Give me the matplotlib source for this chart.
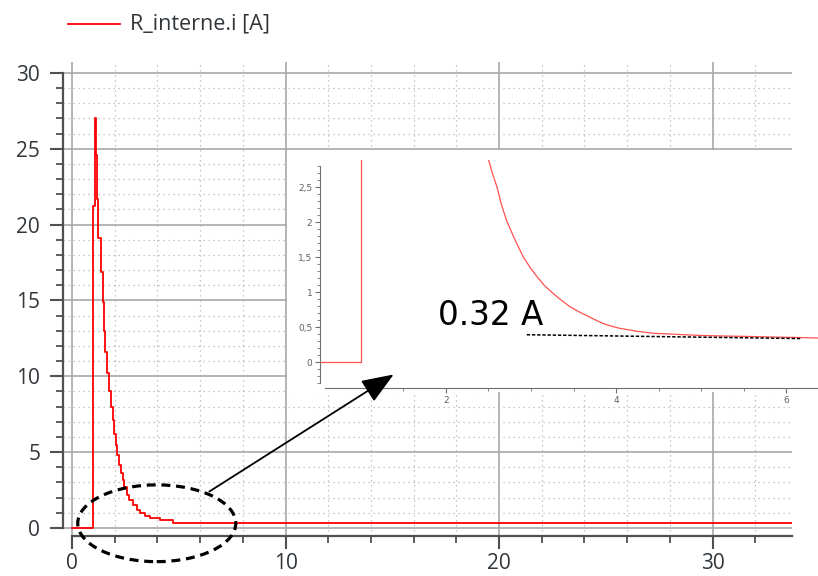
import matplotlib
matplotlib.use('Agg')
import numpy as np
import matplotlib.pyplot as plt
from matplotlib.patches import Ellipse, FancyArrowPatch
from matplotlib.lines import Line2D
from matplotlib.ticker import MultipleLocator, FixedLocator, FuncFormatter

# ---- data ----
series_label = "R_interne.i [A]"
# main plot: sampled current (step-held), time in s, current in A
main_t = [0, 0.97, 1.08, 1.12, 1.17, 1.23, 1.34, 1.44, 1.50, 1.56, 1.65, 1.75,
          1.83, 1.91, 1.97, 2.05, 2.12, 2.22, 2.30, 2.37, 2.45, 2.56, 2.68, 2.84,
          3.03, 3.18, 3.42, 3.65, 4.12, 4.74, 33.72]
main_i = [0, 21.2, 27.0, 24.6, 21.7, 19.1, 16.9, 14.9, 13.0, 11.6, 10.2, 9.0,
          8.0, 7.1, 6.2, 5.5, 4.8, 4.15, 3.6, 3.15, 2.7, 2.2, 1.85, 1.5,
          1.2, 0.97, 0.79, 0.64, 0.5, 0.35, 0.35]
# zoomed inset: rising edge and decaying tail
inset_edge_t = [0.52, 1.0, 1.0]
inset_edge_i = [0.0, 0.0, 3.2]
inset_tail_t = [2.47, 2.50, 2.55, 2.60, 2.65, 2.71, 2.77, 2.83, 2.91, 2.99, 3.07,
                3.16, 3.26, 3.36, 3.46, 3.56, 3.66, 3.76, 3.85, 3.95, 4.05, 4.15,
                4.24, 4.34, 4.44, 4.54, 4.64, 4.80, 4.99, 5.25, 5.58, 5.85, 6.16, 6.38]
inset_tail_i = [3.05, 2.89, 2.68, 2.50, 2.26, 2.03, 1.86, 1.70, 1.50, 1.35, 1.22,
                1.09, 0.98, 0.88, 0.79, 0.72, 0.66, 0.60, 0.55, 0.51, 0.48, 0.46,
                0.44, 0.425, 0.41, 0.405, 0.40, 0.39, 0.38, 0.372, 0.365, 0.357, 0.35, 0.343]
asymptote_t = [2.95, 6.18]
asymptote_i = [0.39, 0.335]
annotation_text = "0.32 A"

W, H = 818, 576
fig = plt.figure(figsize=(W / 100, H / 100), dpi=100)


def fbox(l, t, r, b):
    return [l / W, 1 - b / H, (r - l) / W, (b - t) / H]


TXT = '#31363b'
SPN = '#505050'

# ---- main axes ----
ax = fig.add_axes(fbox(63, 62, 792, 536))
ax.step(main_t, main_i, where='post', color='#ff0000', lw=1.3, zorder=3)
ax.set_xlim(-0.42, 33.72)
ax.set_ylim(-0.53, 30.72)
for s in ('top', 'right'):
    ax.spines[s].set_visible(False)
ax.spines['left'].set_bounds(0, 30)
ax.spines['bottom'].set_bounds(0, 33.72)
for s in ('left', 'bottom'):
    ax.spines[s].set_color(SPN)
    ax.spines[s].set_linewidth(1.6)
ax.xaxis.set_major_locator(MultipleLocator(10))
ax.xaxis.set_minor_locator(MultipleLocator(2))
ax.yaxis.set_major_locator(MultipleLocator(5))
ax.yaxis.set_minor_locator(MultipleLocator(1))
ax.grid(which='major', color='#a8a8a8', lw=1.2)
ax.grid(which='minor', color='#b5b5b5', lw=0.9, linestyle=(0, (1, 3)))
ax.set_axisbelow(True)
ax.tick_params(which='major', length=9.4, width=1.5, color=SPN, labelsize=15,
               labelcolor=TXT, pad=7)
ax.tick_params(axis='x', which='major', pad=3)
ax.tick_params(which='minor', length=5, width=1.3, color=SPN)
for lab in ax.get_xticklabels() + ax.get_yticklabels():
    lab.set_fontfamily('Open Sans')

ax.add_patch(Ellipse((3.97, 0.31), 7.4, 5.06, fill=False, ec='black', lw=2.3,
                     ls=(0, (2.8, 1.8)), clip_on=False, zorder=6))

# ---- white background for inset ----
bg = fig.add_axes(fbox(287, 150, 818, 392))
bg.set_facecolor('white')
bg.set_xticks([])
bg.set_yticks([])
for s in bg.spines.values():
    s.set_visible(False)

# ---- inset ----
ax2 = fig.add_axes(fbox(320, 160, 818, 388))
ax2.patch.set_alpha(0)
ax2.plot(inset_edge_t, inset_edge_i, color='#ff5050', lw=0.9)
ax2.plot(inset_tail_t, inset_tail_i, color='#ff5050', lw=0.9)
ax2.plot(asymptote_t, asymptote_i, color='black', lw=1.1, ls=(0, (2.2, 1.2)))
ax2.set_xlim(0.518, 6.376)
ax2.set_ylim(-0.371, 2.886)
for s in ('top', 'right'):
    ax2.spines[s].set_visible(False)
ax2.spines['left'].set_bounds(-0.3, 2.8)
ax2.spines['bottom'].set_bounds(0.58, 6.376)
for s in ('left', 'bottom'):
    ax2.spines[s].set_color('#707070')
    ax2.spines[s].set_linewidth(0.8)
ax2.yaxis.set_major_locator(FixedLocator([0, 0.5, 1, 1.5, 2, 2.5]))
ax2.yaxis.set_minor_locator(FixedLocator(np.round(np.arange(-0.3, 2.81, 0.1), 2)))
ax2.yaxis.set_major_formatter(FuncFormatter(lambda v, p: ('%g' % v).replace('.', ',')))
ax2.xaxis.set_major_locator(FixedLocator([2, 4, 6]))
ax2.xaxis.set_minor_locator(FixedLocator([1.5, 2.5, 3, 3.5, 4.5, 5, 5.5]))
ax2.tick_params(which='major', length=3.5, width=0.8, color='#707070', labelsize=6.5,
                labelcolor='#606060', pad=2)
ax2.tick_params(which='minor', length=2, width=0.6, color='#707070')
ax2.text(1.906, 0.53, annotation_text, fontsize=23.5, family='DejaVu Sans',
         color='black', va='baseline', ha='left')

# ---- arrow ----
arrow = FancyArrowPatch((207 / W, 1 - 493 / H), (396 / W, 1 - 373 / H),
                        transform=fig.transFigure, arrowstyle='-|>,head_length=0.9,head_width=0.35',
                        mutation_scale=22, color='black', lw=1.3, zorder=20)
fig.add_artist(arrow)

# ---- legend ----
fig.add_artist(Line2D([68 / W, 120 / W], [1 - 24 / H, 1 - 24 / H],
                      color='#ff0000', lw=1.3, transform=fig.transFigure))
fig.text(130 / W, 1 - 24 / H, series_label, fontsize=15.5, family='Open Sans',
         color=TXT, va='center', ha='left')

fig.savefig('out.png', dpi=100)
